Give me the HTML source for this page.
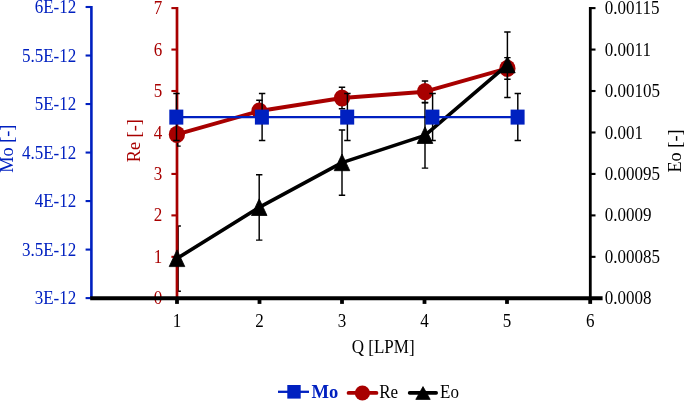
<!DOCTYPE html><html><head><meta charset="utf-8"><title>chart</title><style>html,body{margin:0;padding:0;background:#fff}svg{display:block}text{font-family:"Liberation Serif","Times New Roman",serif}</style></head><body>
<svg width="685" height="401" viewBox="0 0 685 401">
<rect width="685" height="401" fill="#fff"/>
<g stroke="#0020C0" fill="none">
<line x1="91.4" y1="5.9" x2="91.4" y2="298.1" stroke-width="2.6"/>
<line x1="85.60000000000001" y1="7.00" x2="91.4" y2="7.00" stroke-width="2.1"/>
<line x1="85.60000000000001" y1="55.52" x2="91.4" y2="55.52" stroke-width="2.1"/>
<line x1="85.60000000000001" y1="104.03" x2="91.4" y2="104.03" stroke-width="2.1"/>
<line x1="85.60000000000001" y1="152.55" x2="91.4" y2="152.55" stroke-width="2.1"/>
<line x1="85.60000000000001" y1="201.07" x2="91.4" y2="201.07" stroke-width="2.1"/>
<line x1="85.60000000000001" y1="249.58" x2="91.4" y2="249.58" stroke-width="2.1"/>
<line x1="85.60000000000001" y1="298.10" x2="91.4" y2="298.10" stroke-width="2.1"/>
</g>
<text transform="translate(76.20,13.10) scale(0.945,1)" text-anchor="end" fill="#0020C0" font-size="18">6E-12</text>
<text transform="translate(76.20,61.62) scale(0.945,1)" text-anchor="end" fill="#0020C0" font-size="18">5.5E-12</text>
<text transform="translate(76.20,110.13) scale(0.945,1)" text-anchor="end" fill="#0020C0" font-size="18">5E-12</text>
<text transform="translate(76.20,158.65) scale(0.945,1)" text-anchor="end" fill="#0020C0" font-size="18">4.5E-12</text>
<text transform="translate(76.20,207.17) scale(0.945,1)" text-anchor="end" fill="#0020C0" font-size="18">4E-12</text>
<text transform="translate(76.20,255.68) scale(0.945,1)" text-anchor="end" fill="#0020C0" font-size="18">3.5E-12</text>
<text transform="translate(76.20,304.20) scale(0.945,1)" text-anchor="end" fill="#0020C0" font-size="18">3E-12</text>
<line x1="590.3" y1="7.0" x2="590.3" y2="298.3" stroke="#000000" stroke-width="2.8"/>
<line x1="590.3" y1="8.10" x2="595.5" y2="8.10" stroke="#000000" stroke-width="2.1"/>
<text transform="translate(604.80,14.20) scale(0.945,1)" text-anchor="start" fill="#000000" font-size="18">0.00115</text>
<line x1="590.3" y1="49.56" x2="595.5" y2="49.56" stroke="#000000" stroke-width="2.1"/>
<text transform="translate(604.80,55.66) scale(0.945,1)" text-anchor="start" fill="#000000" font-size="18">0.0011</text>
<line x1="590.3" y1="91.01" x2="595.5" y2="91.01" stroke="#000000" stroke-width="2.1"/>
<text transform="translate(604.80,97.11) scale(0.945,1)" text-anchor="start" fill="#000000" font-size="18">0.00105</text>
<line x1="590.3" y1="132.47" x2="595.5" y2="132.47" stroke="#000000" stroke-width="2.1"/>
<text transform="translate(604.80,138.57) scale(0.945,1)" text-anchor="start" fill="#000000" font-size="18">0.001</text>
<line x1="590.3" y1="173.93" x2="595.5" y2="173.93" stroke="#000000" stroke-width="2.1"/>
<text transform="translate(604.80,180.03) scale(0.945,1)" text-anchor="start" fill="#000000" font-size="18">0.00095</text>
<line x1="590.3" y1="215.39" x2="595.5" y2="215.39" stroke="#000000" stroke-width="2.1"/>
<text transform="translate(604.80,221.49) scale(0.945,1)" text-anchor="start" fill="#000000" font-size="18">0.0009</text>
<line x1="590.3" y1="256.84" x2="595.5" y2="256.84" stroke="#000000" stroke-width="2.1"/>
<text transform="translate(604.80,262.94) scale(0.945,1)" text-anchor="start" fill="#000000" font-size="18">0.00085</text>
<text transform="translate(604.80,304.40) scale(0.945,1)" text-anchor="start" fill="#000000" font-size="18">0.0008</text>
<path d="M178.10 225.90V291.30M178.10 225.90H180.90M178.10 291.30H180.90" stroke="#000000" stroke-width="1.45" fill="none"/>
<line x1="177.0" y1="7.0" x2="177.0" y2="298.3" stroke="#A80000" stroke-width="2.7"/>
<line x1="171.4" y1="8.10" x2="177.0" y2="8.10" stroke="#A80000" stroke-width="2.1"/>
<text transform="translate(162.20,14.20) scale(0.945,1)" text-anchor="end" fill="#A80000" font-size="18">7</text>
<line x1="171.4" y1="49.56" x2="177.0" y2="49.56" stroke="#A80000" stroke-width="2.1"/>
<text transform="translate(162.20,55.66) scale(0.945,1)" text-anchor="end" fill="#A80000" font-size="18">6</text>
<line x1="171.4" y1="91.01" x2="177.0" y2="91.01" stroke="#A80000" stroke-width="2.1"/>
<text transform="translate(162.20,97.11) scale(0.945,1)" text-anchor="end" fill="#A80000" font-size="18">5</text>
<line x1="171.4" y1="132.47" x2="177.0" y2="132.47" stroke="#A80000" stroke-width="2.1"/>
<text transform="translate(162.20,138.57) scale(0.945,1)" text-anchor="end" fill="#A80000" font-size="18">4</text>
<line x1="171.4" y1="173.93" x2="177.0" y2="173.93" stroke="#A80000" stroke-width="2.1"/>
<text transform="translate(162.20,180.03) scale(0.945,1)" text-anchor="end" fill="#A80000" font-size="18">3</text>
<line x1="171.4" y1="215.39" x2="177.0" y2="215.39" stroke="#A80000" stroke-width="2.1"/>
<text transform="translate(162.20,221.49) scale(0.945,1)" text-anchor="end" fill="#A80000" font-size="18">2</text>
<line x1="171.4" y1="256.84" x2="177.0" y2="256.84" stroke="#A80000" stroke-width="2.1"/>
<text transform="translate(162.20,262.94) scale(0.945,1)" text-anchor="end" fill="#A80000" font-size="18">1</text>
<line x1="171.4" y1="298.30" x2="177.0" y2="298.30" stroke="#A80000" stroke-width="2.1"/>
<text transform="translate(162.20,304.40) scale(0.945,1)" text-anchor="end" fill="#A80000" font-size="18">0</text>
<line x1="90.2" y1="298.3" x2="602.6" y2="298.3" stroke="#000000" stroke-width="3.9"/>
<line x1="177.0" y1="298.3" x2="177.0" y2="303.90000000000003" stroke="#000000" stroke-width="3.8"/>
<text transform="translate(177.00,326.60) scale(0.945,1)" text-anchor="middle" fill="#000000" font-size="18">1</text>
<line x1="259.5" y1="298.3" x2="259.5" y2="303.90000000000003" stroke="#000000" stroke-width="3.8"/>
<text transform="translate(259.50,326.60) scale(0.945,1)" text-anchor="middle" fill="#000000" font-size="18">2</text>
<line x1="342.0" y1="298.3" x2="342.0" y2="303.90000000000003" stroke="#000000" stroke-width="3.8"/>
<text transform="translate(342.00,326.60) scale(0.945,1)" text-anchor="middle" fill="#000000" font-size="18">3</text>
<line x1="424.5" y1="298.3" x2="424.5" y2="303.90000000000003" stroke="#000000" stroke-width="3.8"/>
<text transform="translate(424.50,326.60) scale(0.945,1)" text-anchor="middle" fill="#000000" font-size="18">4</text>
<line x1="507.0" y1="298.3" x2="507.0" y2="303.90000000000003" stroke="#000000" stroke-width="3.8"/>
<text transform="translate(507.00,326.60) scale(0.945,1)" text-anchor="middle" fill="#000000" font-size="18">5</text>
<line x1="590.2" y1="298.3" x2="590.2" y2="303.90000000000003" stroke="#000000" stroke-width="3.8"/>
<text transform="translate(590.20,326.60) scale(0.945,1)" text-anchor="middle" fill="#000000" font-size="18">6</text>
<text transform="translate(12.60,148.70) scale(1.0,1) rotate(-90)" text-anchor="middle" fill="#0020C0" font-size="18.3">Mo [-]</text>
<text transform="translate(139.90,140.70) scale(1.0,1) rotate(-90)" text-anchor="middle" fill="#A80000" font-size="18.3">Re [-]</text>
<text transform="translate(681.40,151.00) scale(1.0,1) rotate(-90)" text-anchor="middle" fill="#000000" font-size="18.3">Eo [-]</text>
<text transform="translate(383.20,352.80) scale(0.945,1)" text-anchor="middle" fill="#000000" font-size="18">Q [LPM]</text>
<path d="M177.70 134.40V146.10H180.70" stroke="#000000" stroke-width="1.45" fill="none"/>
<path d="M259.40 100.20V121.80M256.20 100.20H262.60M256.20 121.80H262.60" stroke="#000000" stroke-width="1.45" fill="none"/>
<path d="M342.00 87.20V108.80M338.80 87.20H345.20M338.80 108.80H345.20" stroke="#000000" stroke-width="1.45" fill="none"/>
<path d="M425.00 80.90V102.50M421.80 80.90H428.20M421.80 102.50H428.20" stroke="#000000" stroke-width="1.45" fill="none"/>
<path d="M507.40 57.60V79.20M504.20 57.60H510.60M504.20 79.20H510.60" stroke="#000000" stroke-width="1.45" fill="none"/>
<polyline points="176.90,134.40 259.40,111.00 342.00,98.00 425.00,91.70 507.40,68.40" fill="none" stroke="#A80000" stroke-width="3.9" stroke-linejoin="round" stroke-linecap="round"/>
<ellipse cx="176.9" cy="134.4" rx="8.1" ry="8.6" fill="#A80000"/>
<ellipse cx="259.4" cy="111.0" rx="8.1" ry="8.6" fill="#A80000"/>
<ellipse cx="342.0" cy="98.0" rx="8.1" ry="8.6" fill="#A80000"/>
<ellipse cx="425.0" cy="91.7" rx="8.1" ry="8.6" fill="#A80000"/>
<ellipse cx="507.4" cy="68.4" rx="8.1" ry="8.6" fill="#A80000"/>
<polyline points="177.00,258.50 259.20,207.40 342.00,162.60 425.00,135.40 507.40,64.80" fill="none" stroke="#000000" stroke-width="3.6" stroke-linejoin="round" stroke-linecap="round"/>
<polygon points="177.00,249.90 169.20,266.60 184.80,266.60" fill="#000000" stroke="#000000" stroke-width="0.8" stroke-linejoin="round"/>
<polygon points="259.20,198.80 251.40,215.50 267.00,215.50" fill="#000000" stroke="#000000" stroke-width="0.8" stroke-linejoin="round"/>
<polygon points="342.00,154.00 334.20,170.70 349.80,170.70" fill="#000000" stroke="#000000" stroke-width="0.8" stroke-linejoin="round"/>
<polygon points="425.00,126.80 417.20,143.50 432.80,143.50" fill="#000000" stroke="#000000" stroke-width="0.8" stroke-linejoin="round"/>
<polygon points="507.40,56.20 499.60,72.90 515.20,72.90" fill="#000000" stroke="#000000" stroke-width="0.8" stroke-linejoin="round"/>
<polyline points="176.30,117.10 261.90,117.10 347.20,117.10 432.40,117.10 517.60,117.10" fill="none" stroke="#0020C0" stroke-width="2.3"/>
<path d="M259.20 174.70V240.10M256.00 174.70H262.40M256.00 240.10H262.40" stroke="#000000" stroke-width="1.45" fill="none"/>
<path d="M342.00 129.90V195.30M338.80 129.90H345.20M338.80 195.30H345.20" stroke="#000000" stroke-width="1.45" fill="none"/>
<path d="M425.00 102.70V168.10M421.80 102.70H428.20M421.80 168.10H428.20" stroke="#000000" stroke-width="1.45" fill="none"/>
<path d="M507.40 32.10V97.50M504.20 32.10H510.60M504.20 97.50H510.60" stroke="#000000" stroke-width="1.45" fill="none"/>
<path d="M176.50 93.40V140.40M173.30 93.40H179.70M173.30 140.40H179.70" stroke="#000000" stroke-width="1.45" fill="none"/>
<path d="M262.10 93.40V140.40M258.90 93.40H265.30M258.90 140.40H265.30" stroke="#000000" stroke-width="1.45" fill="none"/>
<path d="M347.40 93.40V140.40M344.20 93.40H350.60M344.20 140.40H350.60" stroke="#000000" stroke-width="1.45" fill="none"/>
<path d="M432.60 93.40V140.40M429.40 93.40H435.80M429.40 140.40H435.80" stroke="#000000" stroke-width="1.45" fill="none"/>
<path d="M517.80 93.40V140.40M514.60 93.40H521.00M514.60 140.40H521.00" stroke="#000000" stroke-width="1.45" fill="none"/>
<rect x="169.30" y="109.60" width="14" height="15" fill="#0020C0"/>
<rect x="254.90" y="109.60" width="14" height="15" fill="#0020C0"/>
<rect x="340.20" y="109.60" width="14" height="15" fill="#0020C0"/>
<rect x="425.40" y="109.60" width="14" height="15" fill="#0020C0"/>
<rect x="510.60" y="109.60" width="14" height="15" fill="#0020C0"/>
<line x1="278" y1="391.79999999999995" x2="309" y2="391.79999999999995" stroke="#0020C0" stroke-width="2.3"/>
<rect x="287.3" y="385.0" width="13.4" height="13.6" fill="#0020C0"/>
<text transform="translate(311.4,397.6) scale(1.03,1)" fill="#0020C0" font-size="18" font-weight="bold">Mo</text>
<line x1="348.6" y1="392.9" x2="376.4" y2="392.9" stroke="#A80000" stroke-width="3.9" stroke-linecap="round"/>
<ellipse cx="362.4" cy="393.0" rx="7.6" ry="7.5" fill="#A80000"/>
<text transform="translate(379.20,398.20) scale(0.945,1)" text-anchor="start" fill="#000000" font-size="18">Re</text>
<line x1="409.6" y1="392.9" x2="436.2" y2="392.9" stroke="#000000" stroke-width="3.6" stroke-linecap="round"/>
<polygon points="423.0,386.6 415.8,399.4 430.2,399.4" fill="#000000" stroke="#000000" stroke-width="0.8" stroke-linejoin="round"/>
<text transform="translate(440.00,398.20) scale(0.945,1)" text-anchor="start" fill="#000000" font-size="18">Eo</text>
</svg></body></html>
